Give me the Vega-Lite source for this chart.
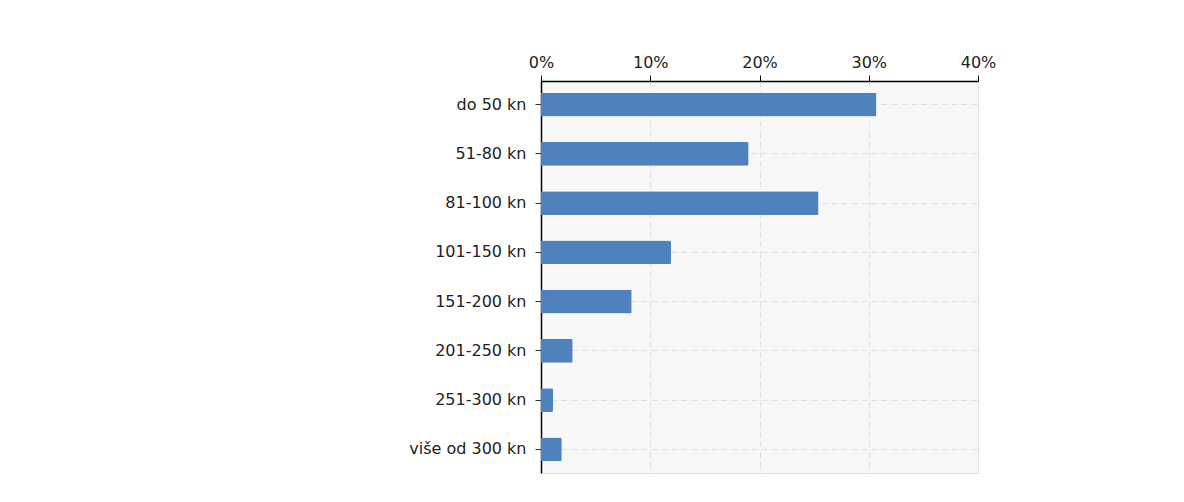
{
  "$schema": "https://vega.github.io/schema/vega-lite/v6.json",
  "width": 437,
  "height": 392,
  "autosize": {"type": "none"},
  "padding": {"left": 541, "top": 81, "right": 206, "bottom": 29},
  "background": "white",
  "config": {
    "view": {"fill": "#f8f8f8", "stroke": "#dddddd", "strokeWidth": 1},
    "font": "DejaVu Sans"
  },
  "data": {
    "values": [
      {"kat": "do 50 kn", "v": 0.307},
      {"kat": "51-80 kn", "v": 0.190},
      {"kat": "81-100 kn", "v": 0.254},
      {"kat": "101-150 kn", "v": 0.119},
      {"kat": "151-200 kn", "v": 0.083},
      {"kat": "201-250 kn", "v": 0.029},
      {"kat": "251-300 kn", "v": 0.011},
      {"kat": "više od 300 kn", "v": 0.019}
    ]
  },
  "mark": {"type": "bar", "color": "#4f81bd", "cornerRadiusEnd": 1.5},
  "encoding": {
    "y": {
      "field": "kat", "type": "nominal", "sort": null, "title": null,
      "scale": {"paddingInner": 0.52, "paddingOuter": 0.24},
      "axis": {
        "orient": "left", "domainColor": "#000000", "domainWidth": 1.5,
        "tickColor": "#333333", "tickSize": 6, "labelPadding": 9,
        "labelFont": "DejaVu Sans", "labelFontSize": 16, "labelColor": "#222222",
        "grid": true, "gridColor": "#e0e0e0", "gridDash": [6, 4]
      }
    },
    "x": {
      "field": "v", "type": "quantitative", "title": null,
      "scale": {"domain": [0, 0.4], "nice": false},
      "axis": {
        "orient": "top", "format": ".0%", "values": [0, 0.1, 0.2, 0.3, 0.4],
        "domainColor": "#000000", "domainWidth": 1.5,
        "tickColor": "#000000", "tickSize": 6, "labelPadding": 5,
        "labelFont": "DejaVu Sans", "labelFontSize": 16, "labelColor": "#222222",
        "labelFlush": false,
        "grid": true, "gridColor": "#e0e0e0", "gridDash": [6, 4]
      }
    }
  }
}
